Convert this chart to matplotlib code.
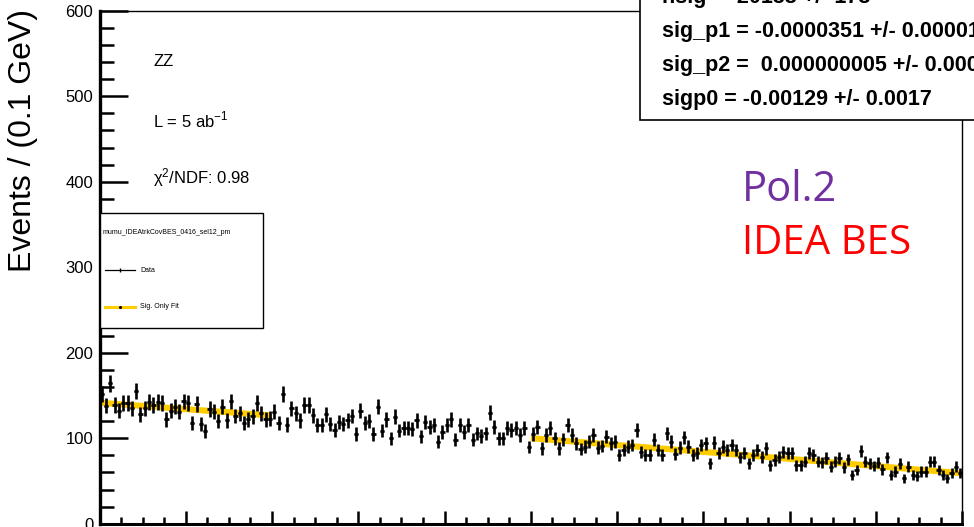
import numpy as np
import matplotlib
matplotlib.use("Agg")
import matplotlib.pyplot as plt
from matplotlib.patches import Rectangle
from matplotlib.lines import Line2D
from matplotlib.ticker import MultipleLocator, NullFormatter

# ---------------------------------------------------------------- data
x_min, x_max = 120.0, 140.0          # recoil-mass window (GeV)
bin_width = 0.1                       # GeV per bin
event_weight = 0.6                    # per-event MC weight (sets the error bars)

counts = [
    152, 138, 164, 139, 132, 141, 141, 135, 155, 128,
    135, 142, 139, 142, 141, 122, 132, 137, 131, 143,
    141, 118, 140, 117, 108, 134, 131, 120, 137, 121,
    143, 126, 129, 118, 122, 125.5, 141, 129, 122, 123,
    131, 118, 152, 116, 135, 129, 121, 139, 139, 127,
    115.5, 115.5, 128, 117, 110, 119, 117, 121, 126, 105,
    132, 118, 120, 105, 137, 109, 122, 100, 125, 109,
    112, 112, 110.5, 121, 102, 119, 113.6, 115.5, 96, 107.6,
    115.5, 122, 98, 115.5, 107.6, 115.5, 98, 105.6, 102.5, 105.6,
    130, 113.6, 100, 100, 111.7, 109.6, 111.7, 103.7, 111.7, 89.5,
    105, 113.5, 88, 103.7, 111.5, 100, 88, 98.7, 115, 103.7,
    94, 87, 90, 96, 103.7, 89, 91, 101.8, 94, 96,
    80.3, 86, 90, 92, 109.5, 84, 80.3, 80.3, 98, 86,
    80.3, 105.7, 96, 82, 89, 101, 90, 80.3, 82.4, 92,
    94, 70.6, 94.8, 83, 90, 86, 92, 86, 77.6, 82.4,
    70.6, 80.3, 86, 78.4, 88, 68.6, 74.5, 78.4, 84, 83,
    82.4, 68.6, 68.6, 72.5, 83, 80.3, 72.5, 72, 76.5, 66.7,
    72.5, 76.5, 65.9, 75.3, 57, 62.8, 85.4, 72.5, 70.6, 67.5,
    71.3, 63.6, 77.6, 57, 60.9, 69.9, 53, 66.7, 57, 55.8,
    60.9, 60.9, 72.5, 72.5, 62.8, 57, 53, 58.9, 66.7, 58.9,
]

# signal-only pol2 fit, shown in the two sidebands
fit_low_x = [120.0, 122.0, 124.0]
fit_low_y = [141.5, 134.0, 126.5]
fit_high_x = [130.0, 132.5, 135.0, 137.5, 140.0]
fit_high_y = [100.0, 90.0, 80.0, 69.5, 59.0]

y_ticks = [0, 100, 200, 300, 400, 500, 600]

fit_lines = [
    "nsig =  20138 +/- 178",
    "sig_p1 = -0.0000351 +/- 0.0000112",
    "sig_p2 =  0.000000005 +/- 0.0000000",
    "sigp0 = -0.00129 +/- 0.0017",
]

# ---------------------------------------------------------------- figure
W, H = 974, 527
fig = plt.figure(figsize=(W / 100, H / 100), dpi=100)
FONT = "Liberation Sans"


def fx(px):
    return px / W


def fy(py):
    return 1 - py / H


ax_l, ax_r, ax_t, ax_b = 99.5, 962.3, 10.7, 523.7
ax = fig.add_axes([fx(ax_l), fy(ax_b), fx(ax_r - ax_l), (ax_b - ax_t) / H])
ax.set_xlim(x_min, x_max)
ax.set_ylim(0, 600)

centers = x_min + bin_width * (np.arange(len(counts)) + 0.5)
vals = np.asarray(counts, dtype=float)
errs = np.sqrt(event_weight * vals)

ax.plot(fit_low_x, fit_low_y, color="#FFCC00", lw=4.4, solid_capstyle="butt", zorder=2)
ax.plot(fit_high_x, fit_high_y, color="#FFCC00", lw=4.4, solid_capstyle="butt", zorder=2)

ax.errorbar(centers, vals, yerr=errs, xerr=bin_width / 2, fmt="o", ms=1.8,
            color="black", ecolor="black", elinewidth=1.9, capsize=0, zorder=3)

# axis styling
for side in ("top", "right"):
    ax.spines[side].set_linewidth(1.0)
ax.spines["left"].set_linewidth(2.4)
ax.spines["bottom"].set_linewidth(2.2)

ax.set_yticks(y_ticks)
ax.yaxis.set_minor_locator(MultipleLocator(20))
ax.xaxis.set_major_locator(MultipleLocator(2))
ax.xaxis.set_minor_locator(MultipleLocator(0.5))
ax.xaxis.set_major_formatter(NullFormatter())
ax.tick_params(axis="y", which="major", direction="in", length=20, width=1.8,
               labelsize=12, pad=4.5)
ax.tick_params(axis="y", which="minor", direction="in", length=10, width=1.8)
ax.tick_params(axis="x", which="major", direction="in", length=9.5, width=1.8)
ax.tick_params(axis="x", which="minor", direction="in", length=5, width=1.8)
for lab in ax.get_yticklabels():
    lab.set_family(FONT)

fig.text(fx(23), fy(141), "Events / (0.1 GeV)", rotation=90, ha="center", va="center",
         fontsize=23, family=FONT)

# annotations inside the frame
fig.text(fx(153), fy(61), "ZZ", ha="left", va="center", fontsize=12, family=FONT)
fig.text(fx(153), fy(120), r"L = 5 ab$^{\mathregular{-1}}$", ha="left", va="center",
         fontsize=12, family=FONT)
fig.text(fx(153), fy(178), r"$\mathregular{\chi^{2}}$/NDF: 0.98", ha="left", va="center",
         fontsize=12, family=FONT)

# legend box
fig.patches.append(Rectangle((fx(100), fy(328)), fx(163), (328 - 213) / H,
                             transform=fig.transFigure, facecolor="white",
                             edgecolor="black", lw=1.0, zorder=5))
fig.text(fx(103), fy(232), "mumu_IDEAtrkCovBES_0416_sel12_pm", ha="left", va="center",
         fontsize=5, family=FONT, zorder=6)
fig.lines.append(Line2D([fx(105), fx(135)], [fy(270), fy(270)], transform=fig.transFigure,
                        color="black", lw=0.9, zorder=6))
fig.lines.append(Line2D([fx(120)], [fy(270)], transform=fig.transFigure, marker="|",
                        ms=3, color="black", zorder=6))
fig.text(fx(140), fy(270), "Data", ha="left", va="center", fontsize=5, family=FONT, zorder=6)
fig.lines.append(Line2D([fx(105), fx(135)], [fy(307), fy(307)], transform=fig.transFigure,
                        color="#FFCC00", lw=2.2, zorder=6))
fig.lines.append(Line2D([fx(120)], [fy(307)], transform=fig.transFigure, marker="o",
                        ms=1.2, color="black", zorder=7))
fig.text(fx(140), fy(307), "Sig. Only Fit", ha="left", va="center", fontsize=5,
         family=FONT, zorder=6)

# fit-parameter box
fig.patches.append(Rectangle((fx(640), fy(120)), fx(400), 200 / H,
                             transform=fig.transFigure, facecolor="white",
                             edgecolor="black", lw=1.2, zorder=5))
for k, line in enumerate(fit_lines):
    fig.text(fx(662), fy(-2 + 34 * k), line, ha="left", va="center", fontsize=15.5,
             family=FONT, weight="bold", zorder=6)

# slide labels
fig.text(fx(742), fy(190), "Pol.2", ha="left", va="center", fontsize=30,
         family="Open Sans", color="#7030A0")
fig.text(fx(742), fy(244), "IDEA BES", ha="left", va="center", fontsize=29,
         family="Open Sans", color="#FF0000")

fig.savefig("out.png", dpi=100)
